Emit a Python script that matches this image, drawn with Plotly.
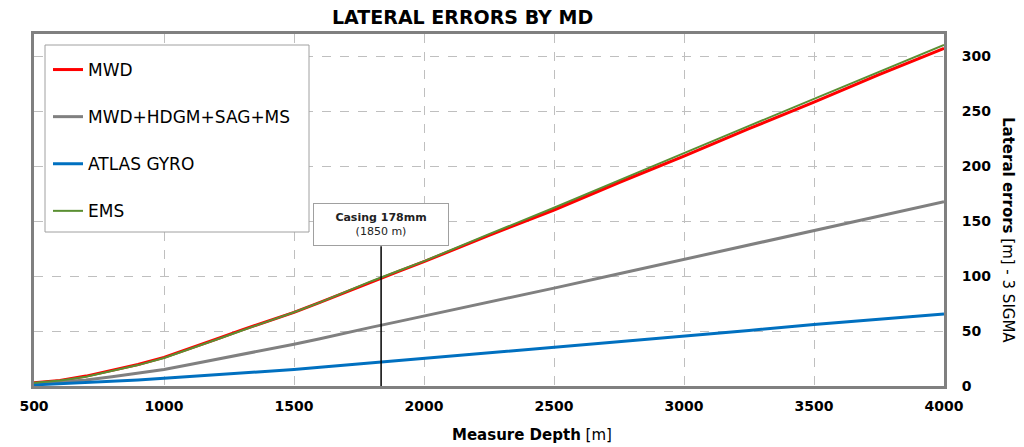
import plotly.graph_objects as go

md = [500, 600, 700, 800, 900, 1000, 1100, 1200, 1300, 1400, 1500, 1600, 1700, 1800, 1900, 2000,
      2250, 2500, 2750, 3000, 3250, 3500, 3750, 4000]
mwd = [3, 5, 9, 14, 19.5, 26, 34, 42.5, 51, 59, 67, 76, 85.5, 95, 104, 113,
       137, 160, 185, 209, 234, 258, 283, 307]
ems = [3, 5, 8.5, 13.5, 19, 25.5, 33.5, 42, 50.5, 58.5, 67, 76, 86, 95.5, 104.5, 113.5,
       138, 162, 187, 212, 236.5, 261, 285.5, 310]
mwd_hdgm = [2, 3.5, 5.5, 8.5, 11.5, 15, 19.5, 24, 28.5, 33, 38, 43, 48.5, 53.5, 58.5, 63.5,
            76, 89, 102, 115, 128, 141, 154, 167.5]
atlas = [1, 2, 3, 4.5, 5.5, 7, 8.5, 10, 11.5, 13.5, 15, 17, 19, 21, 23, 25,
         30, 35, 40, 45, 50.5, 56, 61, 65.5]

casing_md = 1835
casing_label = "Casing 178mm"
casing_sub = "(1850 m)"

x_ticks = [500, 1000, 1500, 2000, 2500, 3000, 3500, 4000]
y_ticks = [0, 50, 100, 150, 200, 250, 300]

FONT = "DejaVu Sans"

fig = go.Figure()
series = [
    ("MWD", mwd, "#ff0000", 3),
    ("MWD+HDGM+SAG+MS", mwd_hdgm, "#808080", 3),
    ("ATLAS GYRO", atlas, "#0070c0", 3),
    ("EMS", ems, "#5a8f32", 2),
]
for name, vals, col, w in series:
    fig.add_trace(go.Scatter(x=md, y=vals, mode="lines", name=name, legendgroup=name,
                             line=dict(color=col, width=w)))

# casing line
fig.add_trace(go.Scatter(x=[casing_md, casing_md], y=[0, 127], mode="lines",
                         line=dict(color="black", width=1.5), showlegend=False, hoverinfo="skip"))

fig.add_annotation(x=casing_md, y=127, xref="x", yref="y", yanchor="bottom",
                   text=f"<b>{casing_label}</b><br>{casing_sub}", showarrow=False,
                   font=dict(family=FONT, size=11, color="#222"),
                   bgcolor="white", bordercolor="#a0a0a0", borderwidth=1, borderpad=7,
                   width=120, align="center")

# legend frame
def px_x(p):
    return (p - 34) / 910

def px_y(p):
    return (386 - p) / 352

fig.add_shape(type="rect", xref="x domain", yref="y domain",
              x0=px_x(45), x1=px_x(309), y0=px_y(232), y1=px_y(45),
              fillcolor="white", line=dict(color="#a0a0a0", width=1), layer="above")

axis_common = dict(showline=True, linecolor="#808080", linewidth=3, mirror=True,
                   showgrid=True, gridcolor="#bfbfbf", griddash="dash", gridwidth=1,
                   zeroline=False,
                   tickfont=dict(family=FONT, size=14, color="black", weight="bold"),
                   ticks="outside", tickcolor="rgba(0,0,0,0)")

fig.update_layout(
    width=1024, height=447,
    margin=dict(l=34, r=80, t=34, b=61),
    plot_bgcolor="white", paper_bgcolor="white",
    showlegend=True,
    legend=dict(x=px_x(48), y=px_y(52), xanchor="left", yanchor="top",
                bgcolor="rgba(0,0,0,0)", borderwidth=0,
                font=dict(family=FONT, size=17, color="black"),
                tracegroupgap=22, itemwidth=30,
                indentation=0),
    xaxis=dict(range=[500, 4000], tickvals=x_ticks, ticklen=5, **axis_common),
    yaxis=dict(range=[0, 320], tickvals=y_ticks, side="right", ticklen=12, **axis_common),
)

fig.add_annotation(xref="x domain", yref="y domain", x=px_x(462), y=px_y(17),
                   xanchor="center", yanchor="middle",
                   text="<b>LATERAL ERRORS BY MD</b>", showarrow=False,
                   font=dict(family=FONT, size=19, color="black"))
fig.add_annotation(xref="x domain", yref="y domain", x=px_x(532), y=px_y(435),
                   xanchor="center", yanchor="middle",
                   text="<b>Measure Depth</b> [m]", showarrow=False,
                   font=dict(family=FONT, size=15, color="black"))
fig.add_annotation(xref="x domain", yref="y domain", x=px_x(1008), y=px_y(230),
                   xanchor="center", yanchor="middle",
                   text="<b>Lateral errors</b> [m] - 3 SIGMA", showarrow=False, textangle=90,
                   font=dict(family=FONT, size=15, color="black"))

fig.write_html("out.html")
